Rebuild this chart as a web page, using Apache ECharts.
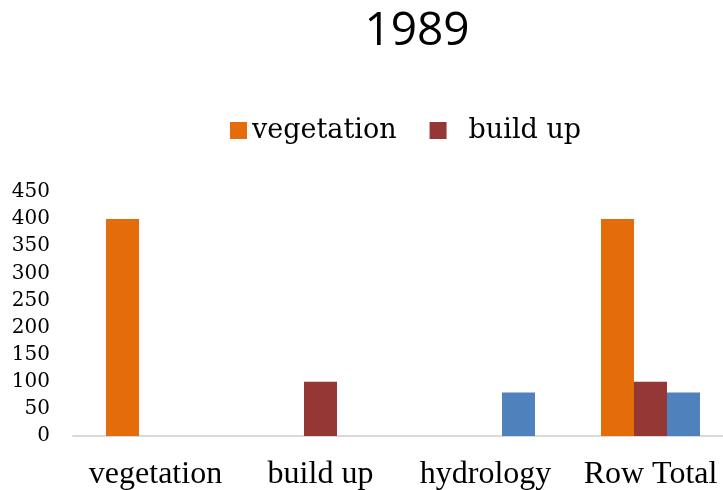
<!DOCTYPE html>
<html>
<head>
	<meta charset="utf-8">
	<title>1989</title>
	<style type="text/css">
		html, body { margin: 0; padding: 0; background: #fff; }
		#chart { width: 723px; height: 490px; }
	</style>
</head>
<body>
	<div id="chart"></div>
	<script src="https://cdn.jsdelivr.net/npm/echarts@6/dist/echarts.min.js"></script>
	<script type="text/javascript">
	const CATEGORIES = ['vegetation', 'build up', 'hydrology', 'Row Total'];
	const VEGETATION = [400, null, null, 400];
	const BUILD_UP = [null, 100, null, 100];
	const HYDROLOGY = [null, null, 80, 80];
	const Y_TICKS = [0, 50, 100, 150, 200, 250, 300, 350, 400, 450];

	const COLORS = {
		vegetation: '#E46C0A',
		buildUp: '#953735',
		hydrology: '#4F81BD',
	};

	var myChart = echarts.init(document.getElementById('chart'));

	var option = {
		animation: false,
		title: {
			text: '1989',
			left: 412,
			textAlign: 'center',
			top: 4,
			textStyle: {
				fontFamily: 'Open Sans',
				fontSize: 46,
				fontWeight: 'normal',
				color: '#000',
			},
		},
		legend: {
			data: [
				{ name: 'vegetation' },
				{ name: 'build up', textStyle: { padding: [0, 0, 0, 17] } },
			],
			left: 225,
			top: 112,
			itemWidth: 17,
			itemHeight: 17,
			itemGap: 33,
			icon: 'rect',
			textStyle: {
				fontFamily: 'DejaVu Serif',
				fontSize: 27,
				color: '#000',
			},
		},
		grid: {
			left: 73,
			width: 660,
			top: 192,
			height: 244,
			containLabel: false,
			outerBoundsMode: 'none',
		},
		xAxis: {
			type: 'category',
			data: CATEGORIES,
			axisLine: { lineStyle: { color: '#d9d9d9', width: 2 } },
			axisTick: { show: false },
			axisLabel: {
				interval: 0,
				margin: 23,
				fontFamily: 'Liberation Serif',
				fontSize: 32,
				color: '#000',
			},
		},
		yAxis: {
			type: 'value',
			min: Y_TICKS[0],
			max: Y_TICKS[Y_TICKS.length - 1],
			interval: Y_TICKS[1] - Y_TICKS[0],
			axisLine: { show: false },
			axisTick: { show: false },
			splitLine: { show: false },
			axisLabel: {
				margin: 23,
				fontFamily: 'DejaVu Serif',
				fontSize: 20,
				color: '#000',
			},
		},
		series: [
			{
				name: 'vegetation',
				type: 'bar',
				data: VEGETATION,
				barWidth: 33,
				barGap: '0%',
				itemStyle: { color: COLORS.vegetation },
			},
			{
				name: 'build up',
				type: 'bar',
				data: BUILD_UP,
				barWidth: 33,
				barGap: '0%',
				itemStyle: { color: COLORS.buildUp },
			},
			{
				name: 'hydrology',
				type: 'bar',
				data: HYDROLOGY,
				barWidth: 33,
				barGap: '0%',
				itemStyle: { color: COLORS.hydrology },
			},
		],
	};

	myChart.setOption(option);
	</script>
</body>
</html>
